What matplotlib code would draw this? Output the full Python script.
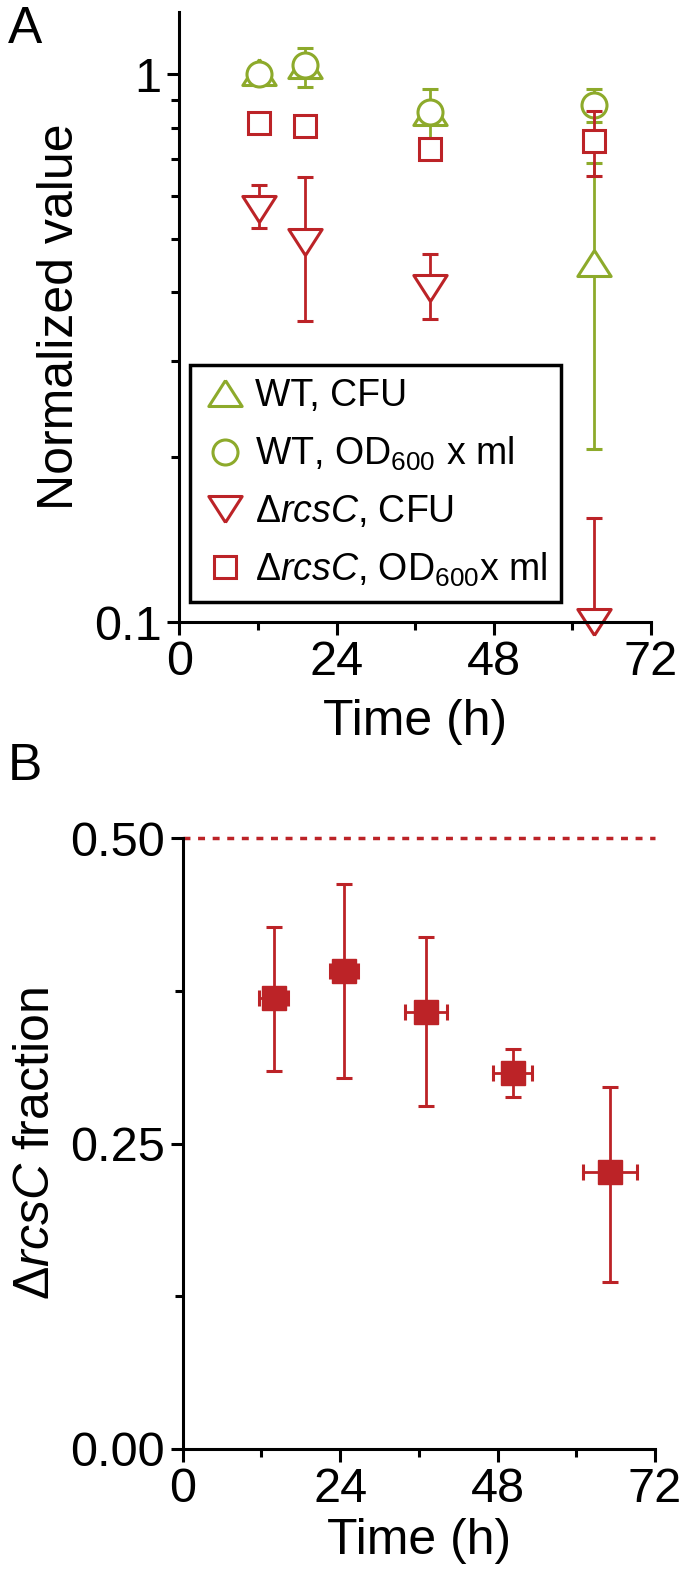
import numpy as np
import matplotlib.pyplot as plt
from matplotlib.ticker import FixedLocator, NullFormatter, FixedFormatter

plt.rcParams['font.family'] = ['Liberation Sans', 'DejaVu Sans']
plt.rcParams['mathtext.fontset'] = 'custom'
plt.rcParams['mathtext.rm'] = 'Liberation Sans'
plt.rcParams['mathtext.it'] = 'Liberation Sans:italic'

green = '#8DAA2B'
red = '#BC2327'

# panel A data (time in h, normalized values)
wt_cfu_t = [12.2, 19.2, 38.2, 63.3]
wt_cfu = [1.01, 1.04, 0.853, 0.452]
wt_cfu_lo = [0.99, 0.95, 0.76, 0.207]
wt_cfu_hi = [1.03, 1.12, 0.94, 0.69]

wt_od_t = [12.2, 19.2, 38.2, 63.3]
wt_od = [1.0, 1.04, 0.855, 0.88]
wt_od_lo = [0.98, 1.02, 0.84, 0.82]
wt_od_hi = [1.02, 1.06, 0.87, 0.94]

rcs_cfu_t = [12.2, 19.2, 38.2, 63.3]
rcs_cfu = [0.567, 0.495, 0.408, 0.1]
rcs_cfu_lo = [0.525, 0.354, 0.357, 0.1]
rcs_cfu_hi = [0.629, 0.649, 0.47, 0.155]

rcs_od_t = [12.2, 19.2, 38.2, 63.3]
rcs_od = [0.817, 0.805, 0.731, 0.755]
rcs_od_lo = [0.80, 0.785, 0.72, 0.652]
rcs_od_hi = [0.83, 0.83, 0.745, 0.858]

# panel B data
frac_t = [13.9, 24.6, 37.1, 50.3, 65.2]
frac_terr = [2.2, 2.2, 3.2, 3.0, 4.1]
frac = [0.369, 0.391, 0.358, 0.308, 0.227]
frac_lo = [0.309, 0.304, 0.281, 0.288, 0.137]
frac_hi = [0.427, 0.462, 0.419, 0.327, 0.296]

# wider, flatter triangles than the default '^' / 'v'
tri_up = [(0, 0.78), (-1, -0.78), (1, -0.78), (0, 0.78)]
tri_down = [(0, -0.78), (-1, 0.78), (1, 0.78), (0, -0.78)]

fig = plt.figure(figsize=(6.85, 15.7), dpi=100)
axA = fig.add_axes([0.262, 0.6038, 0.688, 0.3885])
axB = fig.add_axes([0.2667, 0.0771, 0.6895, 0.3891])

def yerr(v, lo, hi):
    v = np.array(v); return [v - np.array(lo), np.array(hi) - v]

def series(ax, t, v, lo, hi, marker, color, ms, label):
    ax.errorbar(t, v, yerr=yerr(v, lo, hi), fmt='none', ecolor=color,
                elinewidth=2.0, capsize=6, capthick=2.2, clip_on=False)
    ax.plot(t, v, ls='none', marker=marker, ms=ms, mfc='white', mec=color,
            mew=2.2, clip_on=False, label=label)

series(axA, wt_cfu_t, wt_cfu, wt_cfu_lo, wt_cfu_hi, tri_up, green, 24, 'WT, CFU')
series(axA, wt_od_t, wt_od, wt_od_lo, wt_od_hi, 'o', green, 18, r'WT, OD$_{600}$ x ml')
series(axA, rcs_cfu_t, rcs_cfu, rcs_cfu_lo, rcs_cfu_hi, tri_down, red, 24, r'$\Delta$$\it{rcsC}$, CFU')
series(axA, rcs_od_t, rcs_od, rcs_od_lo, rcs_od_hi, 's', red, 16, r'$\Delta$$\it{rcsC}$, OD$_{600}$x ml')

axA.set_yscale('log')
axA.set_ylim(0.1, 1.3)
axA.set_xlim(0, 72)
axA.yaxis.set_major_locator(FixedLocator([0.1, 1]))
axA.yaxis.set_major_formatter(FixedFormatter(['0.1', '1']))
axA.yaxis.set_minor_locator(FixedLocator([0.2, 0.3, 0.4, 0.5, 0.6, 0.7, 0.8, 0.9]))
axA.yaxis.set_minor_formatter(NullFormatter())
axA.set_xticks([0, 24, 48, 72])
axA.set_xticks([12, 36, 60], minor=True)
axA.set_xlabel('Time (h)', fontsize=36, labelpad=10)
axA.set_ylabel('Normalized value', fontsize=36, labelpad=8)

leg = axA.legend(loc='lower left', bbox_to_anchor=(0.022, 0.033),
                 borderaxespad=0, fontsize=27, frameon=True, fancybox=False,
                 framealpha=1, edgecolor='black', handletextpad=0.2,
                 labelspacing=0.55, borderpad=0.35, handlelength=1.2)
leg.get_frame().set_linewidth(2.5)

# panel B
axB.errorbar(frac_t, frac, xerr=frac_terr, yerr=yerr(frac, frac_lo, frac_hi),
             fmt='s', ms=17, mfc=red, mec=red, ecolor=red, elinewidth=2.0,
             capsize=5.5, capthick=2.2)
axB.axhline(0.5, color=red, ls=(0, (2, 2.2)), lw=2.5, clip_on=False)
axB.set_xlim(0, 72)
axB.set_ylim(0, 0.5)
axB.set_yticks([0, 0.25, 0.5])
axB.set_yticklabels(['0.00', '0.25', '0.50'])
axB.set_yticks([0.125, 0.375], minor=True)
axB.set_xticks([0, 24, 48, 72])
axB.set_xticks([12, 36, 60], minor=True)
axB.set_xlabel('Time (h)', fontsize=36, labelpad=4)
axB.set_ylabel(r'$\Delta$$\it{rcsC}$ fraction', fontsize=36, labelpad=8)

for ax in (axA, axB):
    for s in ('top', 'right'):
        ax.spines[s].set_visible(False)
    for s in ('left', 'bottom'):
        ax.spines[s].set_linewidth(2.2)
    ax.tick_params(which='major', direction='out', length=9, width=2.2, labelsize=35, pad=4)
    ax.tick_params(which='minor', direction='out', length=5.5, width=2.2)

fig.text(0.012, 0.997, 'A', fontsize=37, va='top', ha='left')
fig.text(0.012, 0.5275, 'B', fontsize=37, va='top', ha='left')

fig.savefig('out.png', dpi=100)
